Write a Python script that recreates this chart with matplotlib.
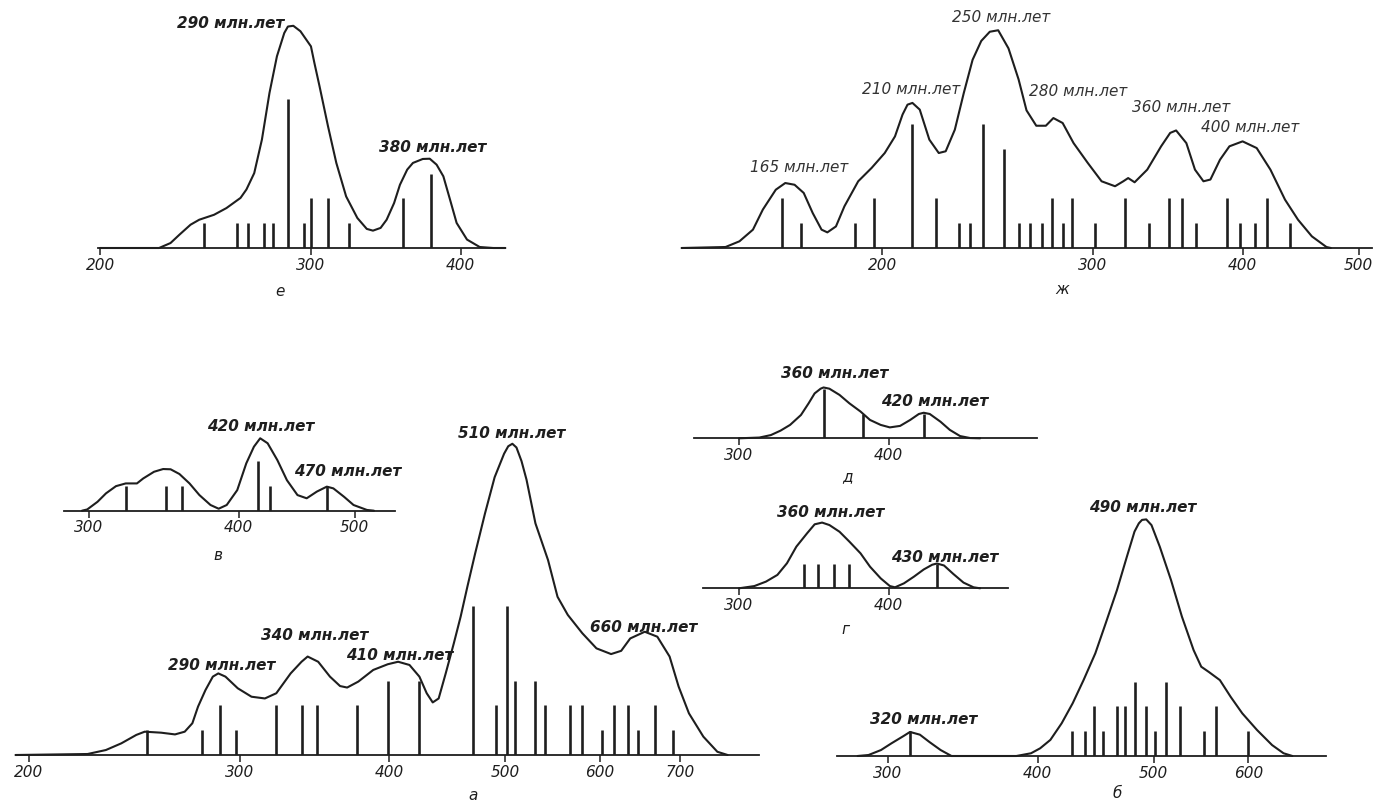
import numpy as np
import matplotlib
matplotlib.use("Agg")
import matplotlib.pyplot as plt
from matplotlib.ticker import NullLocator, FixedLocator, FixedFormatter

# ages in Myr, curve heights and bar heights in number of samples

# е
e_age = [200, 224, 229, 233, 238, 242, 249, 255, 262, 265, 269, 273, 277, 281, 285, 287, 290,
         294, 300, 302, 305, 310, 315, 321, 328, 334, 338, 343, 347, 352, 356, 361, 365, 372,
         377, 382, 387, 392, 397, 405, 415, 426, 436]
e_freq = [0, 0, 0.20, 0.54, 0.94, 1.14, 1.34, 1.61, 2.02, 2.36, 3.02, 4.37, 6.25, 7.73, 8.67,
          8.93, 8.96, 8.74, 8.13, 7.46, 6.52, 4.91, 3.43, 2.08, 1.21, 0.77, 0.70, 0.81, 1.14,
          1.81, 2.55, 3.16, 3.43, 3.59, 3.60, 3.36, 2.89, 1.95, 1.01, 0.34, 0.04, 0, 0]
e_samples = [244, 260, 266, 274, 279, 287, 296, 300, 310, 323, 358, 378]
e_counts = [1, 1, 1, 1, 1, 6, 1, 2, 2, 1, 2, 3]
e_peaks = [290, 380]

# ж
zh_age = [136, 148, 152, 156, 159, 163, 166, 169, 172, 175, 178, 180, 183, 186, 191, 196, 201,
          205, 208, 210, 212, 215, 219, 223, 226, 230, 234, 238, 242, 246, 250, 255, 260, 264,
          269, 274, 278, 283, 289, 297, 305, 313, 318, 321, 325, 333, 342, 348, 352, 359, 365,
          371, 376, 383, 390, 400, 411, 422, 434, 445, 457, 470, 474]
zh_freq = [0, 0.04, 0.27, 0.74, 1.55, 2.35, 2.62, 2.55, 2.22, 1.41, 0.74, 0.63, 0.87, 1.68,
           2.69, 3.23, 3.83, 4.50, 5.38, 5.78, 5.85, 5.58, 4.37, 3.83, 3.90, 4.77, 6.25, 7.59,
           8.35, 8.72, 8.78, 8.05, 6.80, 5.55, 4.93, 4.93, 5.24, 5.04, 4.23, 3.43, 2.69, 2.49,
           2.69, 2.82, 2.65, 3.16, 4.10, 4.64, 4.74, 4.23, 3.16, 2.69, 2.76, 3.56, 4.10, 4.30,
           4.03, 3.16, 1.95, 1.14, 0.47, 0.04, 0]
zh_samples = [165, 171, 190, 197, 212, 222, 232, 237, 243, 253, 260, 266, 272, 277, 283, 288,
              301, 319, 334, 347, 356, 366, 388, 398, 410, 419, 438]
zh_counts = [2, 1, 1, 2, 5, 2, 1, 1, 5, 4, 1, 1, 1, 2, 1, 2, 1, 2, 1, 2, 2, 1, 2, 1, 1, 2, 1]
zh_peaks = [165, 210, 250, 280, 360, 400]

# в
v_age = [296, 299, 305, 310, 316, 322, 325, 329, 333, 340, 346, 351, 357, 364, 371, 379, 385,
         391, 399, 406, 412, 417, 423, 431, 439, 448, 456, 465, 474, 480, 490, 499, 512, 519]
v_freq = [0, 0.05, 0.36, 0.70, 0.99, 1.10, 1.10, 1.10, 1.30, 1.57, 1.68, 1.67, 1.48, 1.10,
          0.63, 0.23, 0.08, 0.23, 0.83, 1.91, 2.58, 2.92, 2.72, 2.04, 1.23, 0.63, 0.50, 0.77,
          0.97, 0.90, 0.56, 0.23, 0.03, 0]
v_samples = [322, 348, 359, 415, 425, 474]
v_counts = [1, 1, 1, 2, 1, 1]
v_peaks = [420, 470]

# а
a_age = [195, 224, 232, 239, 246, 250, 258, 265, 270, 274, 277, 281, 285, 288, 292, 299, 307,
         315, 322, 331, 338, 342, 349, 357, 364, 369, 377, 388, 399, 407, 416, 424, 430, 435,
         440, 446, 453, 459, 465, 472, 481, 490, 499, 503, 507, 511, 516, 521, 530, 543, 553,
         564, 580, 596, 613, 625, 636, 654, 670, 686, 698, 712, 732, 752, 767]
a_freq = [0, 0.04, 0.20, 0.47, 0.81, 0.94, 0.90, 0.83, 0.94, 1.28, 1.95, 2.62, 3.16, 3.29,
          3.16, 2.69, 2.35, 2.28, 2.49, 3.29, 3.76, 3.97, 3.76, 3.16, 2.78, 2.72, 2.96, 3.43,
          3.66, 3.76, 3.63, 3.16, 2.49, 2.12, 2.28, 3.29, 4.50, 5.58, 6.79, 8.13, 9.74, 11.2,
          12.15, 12.45, 12.55, 12.4, 11.85, 11.1, 9.34, 7.86, 6.38, 5.65, 4.91, 4.30, 4.07,
          4.20, 4.70, 4.97, 4.77, 3.97, 2.76, 1.68, 0.74, 0.13, 0]
a_samples = [251, 279, 289, 298, 322, 338, 348, 376, 399, 424, 470, 491, 502, 510, 530, 540,
             566, 580, 602, 617, 633, 645, 667, 691]
a_counts = [1, 1, 2, 1, 2, 2, 2, 2, 3, 3, 6, 2, 6, 3, 3, 2, 2, 2, 1, 2, 2, 1, 2, 1]
a_peaks = [290, 340, 410, 510, 660]

# д
d_age = [300, 312, 319, 325, 331, 338, 343, 347, 351, 353, 357, 364, 371, 379, 386, 394, 401,
         409, 417, 424, 428, 433, 442, 450, 459, 468, 477]
d_freq = [0, 0.03, 0.13, 0.31, 0.54, 0.94, 1.41, 1.81, 2.0, 2.05, 2.0, 1.75, 1.41, 1.08, 0.74,
          0.54, 0.44, 0.50, 0.74, 0.98, 1.03, 0.98, 0.67, 0.34, 0.09, 0.01, 0]
d_samples = [353, 381, 428]
d_counts = [2, 1, 1]
d_peaks = [360, 420]

# г
g_age = [300, 309, 316, 323, 329, 335, 342, 347, 352, 357, 364, 371, 379, 386, 394, 401, 405,
         412, 420, 428, 435, 439, 445, 453, 462, 471, 477]
g_freq = [0, 0.09, 0.27, 0.54, 1.01, 1.68, 2.22, 2.58, 2.65, 2.55, 2.28, 1.88, 1.41, 0.87,
          0.40, 0.09, 0.04, 0.20, 0.47, 0.76, 0.95, 1.0, 0.92, 0.58, 0.23, 0.04, 0]
g_samples = [340, 349, 360, 371, 439]
g_counts = [1, 1, 1, 1, 1]
g_peaks = [360, 430]

# б
b_age = [283, 289, 296, 302, 309, 313, 319, 325, 332, 339, 384, 395, 402, 410, 419, 428, 437,
         447, 456, 466, 475, 482, 486, 489, 493, 498, 506, 517, 528, 540, 548, 556, 568, 580,
         593, 610, 628, 642, 653]
b_freq = [0, 0.04, 0.24, 0.51, 0.80, 0.97, 0.86, 0.56, 0.24, 0, 0, 0.11, 0.31, 0.65, 1.32,
          2.13, 3.06, 4.14, 5.35, 6.69, 8.04, 9.05, 9.38, 9.52, 9.54, 9.31, 8.44, 7.10, 5.62,
          4.27, 3.60, 3.39, 3.06, 2.38, 1.72, 1.05, 0.44, 0.11, 0]
b_samples = [313, 427, 438, 446, 454, 466, 473, 482, 493, 501, 512, 526, 551, 564, 599]
b_counts = [1, 1, 1, 2, 1, 2, 2, 3, 2, 1, 3, 2, 1, 2, 1]
b_peaks = [490, 320]

W, H = 1380, 802
K = 520.0     # pixels per e-fold of age on the log axis
UNIT = 24.8   # pixels per sample
INK = "#1e1e1e"

fig = plt.figure(figsize=(W / 100, H / 100), dpi=100)
fig.patch.set_facecolor("white")


def panel(left, base, xlim, ymax, ticks, age, freq, samples, counts,
          peaks, offsets, letter, letter_xy, label_weight="bold", label_color=INK):
    w = K * np.log(xlim[1] / xlim[0])
    h = ymax * UNIT
    ax = fig.add_axes([left / W, (H - base) / H, w / W, h / H])
    ax.set_facecolor("none")
    ax.set_xscale("log")
    ax.set_xlim(*xlim)
    ax.set_ylim(0, ymax)
    ax.xaxis.set_major_locator(FixedLocator(ticks))
    ax.xaxis.set_major_formatter(FixedFormatter([str(t) for t in ticks]))
    ax.xaxis.set_minor_locator(NullLocator())
    ax.set_yticks([])
    for s in ("top", "left", "right"):
        ax.spines[s].set_visible(False)
    ax.spines["bottom"].set_linewidth(1.3)
    ax.spines["bottom"].set_color(INK)
    ax.tick_params(axis="x", direction="out", length=5, width=1.1, color=INK,
                   pad=2, labelsize=11, labelcolor=INK)
    for lab in ax.get_xticklabels():
        lab.set_fontstyle("italic")

    ax.plot(age, freq, color=INK, lw=1.5, solid_capstyle="round",
            solid_joinstyle="round", clip_on=False)
    ax.vlines(samples, 0, counts, color=INK, lw=1.9)

    for p, (dx, dy) in zip(peaks, offsets):
        ax.annotate(f"{p} млн.лет", xy=(p, 0), xytext=(dx, dy),
                    textcoords="offset pixels", ha="center", va="center",
                    fontsize=11, fontstyle="italic", fontweight=label_weight,
                    color=label_color, annotation_clip=False)

    fig.text(letter_xy[0] / W, 1 - letter_xy[1] / H, letter, ha="center", va="center",
             fontsize=11, fontstyle="italic", color=INK)
    return ax


panel(97.5, 248, (199, 436), 10, [200, 300, 400], e_age, e_freq, e_samples, e_counts,
      e_peaks, [(-63, 225), (-1, 101)], "е", (280, 292))

panel(681.6, 248, (136, 513), 9.5, [200, 300, 400, 500], zh_age, zh_freq, zh_samples,
      zh_counts, zh_peaks,
      [(17, 80), (4, 158), (3, 230), (21, 157), (-7, 141), (8, 120)],
      "ж", (1062, 290), label_weight="normal", label_color="#333333")

panel(64.1, 510.7, (286, 540), 3.5, [300, 400, 500], v_age, v_freq, v_samples, v_counts,
      v_peaks, [(-3, 84), (25, 39)], "в", (218, 555))

panel(15.5, 755, (195, 814), 13.5, [200, 300, 400, 500, 600, 700], a_age, a_freq,
      a_samples, a_counts, a_peaks,
      [(0, 90), (10, 120), (-2, 100), (-4, 322), (-6, 128)], "а", (473, 795))

panel(693.7, 438.3, (275, 532), 2.5, [300, 400], d_age, d_freq, d_samples, d_counts,
      d_peaks, [(1, 65), (21, 37)], "д", (847, 477))

panel(703.1, 588.3, (280, 503), 3, [300, 400], g_age, g_freq, g_samples, g_counts,
      g_peaks, [(-3, 76), (19, 31)], "г", (845, 629))

panel(837, 756, (272, 697), 10, [300, 400, 500, 600], b_age, b_freq, b_samples, b_counts,
      b_peaks, [(0, 249), (2, 36)], "б", (1117, 793))

fig.savefig("out.png", dpi=100, facecolor="white")
